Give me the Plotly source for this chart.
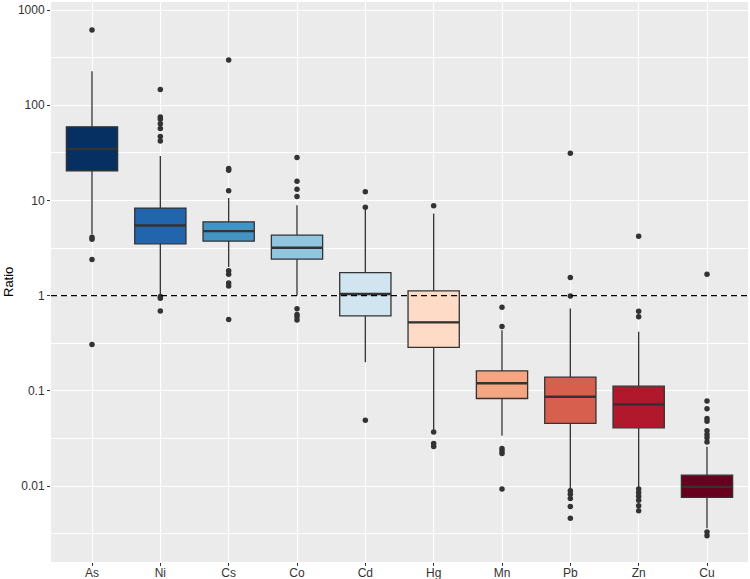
import plotly.graph_objects as go

categories = ["As", "Ni", "Cs", "Co", "Cd", "Hg", "Mn", "Pb", "Zn", "Cu"]
q1 = [20.5, 3.5, 3.73, 2.42, 0.614, 0.286, 0.083, 0.0454, 0.0409, 0.0076]
median = [34.6, 5.46, 4.76, 3.18, 1.04, 0.523, 0.12, 0.0865, 0.0719, 0.0098]
q3 = [59.3, 8.3, 5.96, 4.32, 1.74, 1.12, 0.162, 0.139, 0.112, 0.013]
lower = [4.4, 1.02, 2.0, 1.0, 0.2, 0.039, 0.0337, 0.0092, 0.0096, 0.0036]
upper = [228, 29.2, 10.6, 8.9, 8.2, 7.3, 0.434, 0.733, 0.417, 0.0258]
outliers = [
    [615, 4.1, 3.9, 2.4, 0.307],
    [146, 75, 71, 64, 57, 47, 42, 0.98, 0.94, 0.69],
    [298, 21.7, 20.8, 12.6, 1.82, 1.68, 1.36, 1.26, 0.56],
    [28.3, 15.9, 13.1, 11.0, 0.73, 0.634, 0.6, 0.553],
    [12.3, 8.5, 0.049],
    [8.78, 0.037, 0.028, 0.026],
    [0.757, 0.475, 0.0248, 0.0233, 0.022, 0.0093],
    [31.2, 1.55, 0.99, 0.0089, 0.0082, 0.0074, 0.0061, 0.0046],
    [4.2, 0.687, 0.6, 0.0093, 0.0085, 0.0078, 0.0071, 0.0062, 0.0055],
    [1.68, 0.078, 0.0647, 0.0513, 0.048, 0.038, 0.0348, 0.0322, 0.029, 0.00328, 0.0030],
]
colors = ["#053061", "#2166AC", "#4393C3", "#92C5DE", "#D1E5F0",
          "#FDDBC7", "#F4A582", "#D6604D", "#B2182B", "#67001F"]
ytick_vals = [0.01, 0.1, 1, 10, 100, 1000]
ytick_text = ["0.01", "0.1", "1", "10", "100", "1000"]
minor_vals = [0.00316, 0.0316, 0.316, 3.16, 31.6, 316]
REF_LINE = 1
Y_TITLE = "Ratio"

BOX_W = 0.75
EDGE = "#333333"

fig = go.Figure()
for i, cat in enumerate(categories):
    fig.add_trace(go.Box(
        x=[i], q1=[q1[i]], median=[median[i]], q3=[q3[i]],
        lowerfence=[lower[i]], upperfence=[upper[i]],
        width=BOX_W, whiskerwidth=0, boxpoints=False,
        fillcolor=colors[i], line=dict(color=EDGE, width=1.3),
        showlegend=False, name=cat,
    ))
    fig.add_trace(go.Scatter(
        x=[i - BOX_W / 2, i + BOX_W / 2], y=[median[i], median[i]],
        mode="lines", line=dict(color=EDGE, width=2.4),
        showlegend=False, hoverinfo="skip",
    ))

ox, oy = [], []
for i, pts in enumerate(outliers):
    ox += [i] * len(pts)
    oy += pts
fig.add_trace(go.Scatter(
    x=ox, y=oy, mode="markers",
    marker=dict(color="#333333", size=5.5),
    showlegend=False,
))

fig.add_shape(type="line", xref="paper", x0=0, x1=1, yref="y",
              y0=REF_LINE, y1=REF_LINE,
              line=dict(color="black", width=1.3, dash="6px,4px"))

fig.add_annotation(text=Y_TITLE, xref="paper", yref="paper",
                   x=-43 / 697, y=0.5, xanchor="center", yanchor="middle",
                   textangle=-90, showarrow=False,
                   font=dict(size=13, color="black"))

fig.update_layout(
    width=750, height=579,
    margin=dict(l=51, r=2, t=2, b=17, autoexpand=False),
    paper_bgcolor="white", plot_bgcolor="#EBEBEB",
    font=dict(family="Liberation Sans, Arial, sans-serif", size=12, color="#4D4D4D"),
    xaxis=dict(
        range=[-0.6, len(categories) - 0.4], automargin=False,
        tickmode="array", tickvals=list(range(len(categories))), ticktext=categories,
        showgrid=True, gridcolor="white", gridwidth=1.3,
        zeroline=False, ticks="outside", ticklen=3, tickcolor="#333333",
        tickfont=dict(size=12, color="#333333"), ticklabelstandoff=-3,
    ),
    yaxis=dict(
        type="log", range=[-2.798, 3.084], automargin=False,
        tickmode="array", tickvals=ytick_vals, ticktext=ytick_text,
        showgrid=True, gridcolor="white", gridwidth=1.3,
        zeroline=False, ticks="outside", ticklen=3, tickcolor="#333333",
        tickfont=dict(size=12, color="#333333"),
        minor=dict(tickmode="array", tickvals=minor_vals, showgrid=True,
                   gridcolor="white", gridwidth=0.6, ticks=""),
    ),
)

fig.write_html("out.html", config={"displayModeBar": False},
               post_script="document.body.style.margin='0';document.body.style.overflow='hidden';")
